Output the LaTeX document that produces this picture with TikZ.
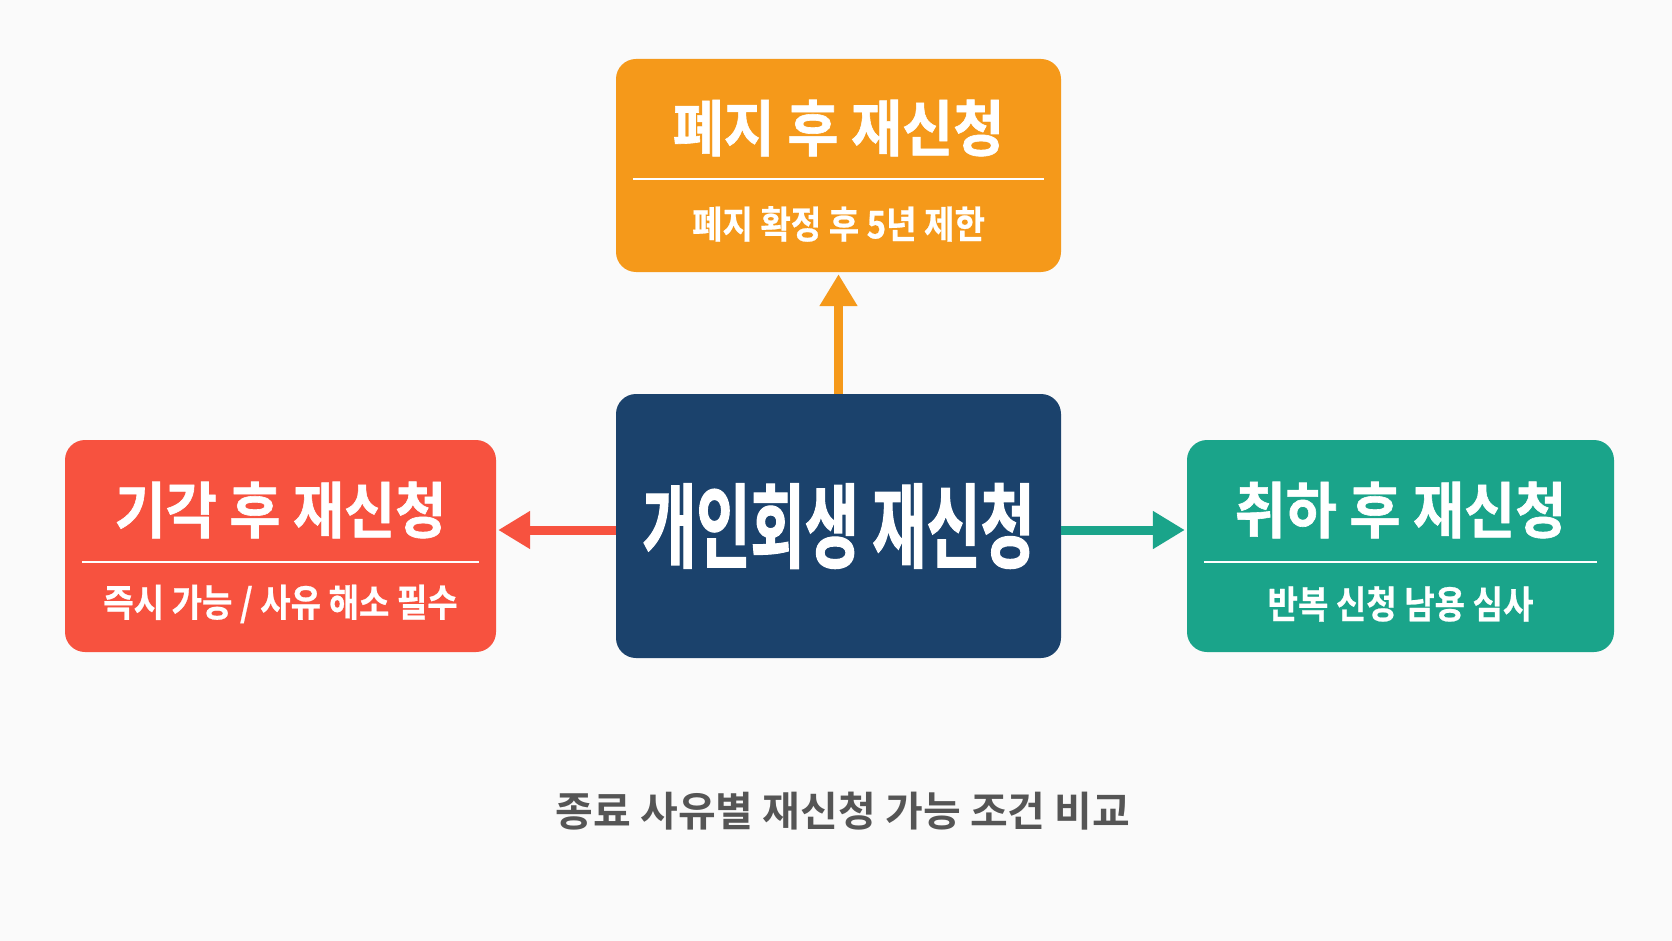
\documentclass[tikz,border=0pt]{standalone}
\usepackage{fontspec}
\usetikzlibrary{arrows.meta,calc}
\newfontfamily\krtitle[FakeStretch=0.64,FakeBold=1.2]{Noto Sans CJK KR Bold}
\newfontfamily\krbox[FakeStretch=0.91,FakeBold=1.0]{Noto Sans CJK KR Bold}
\newfontfamily\krsub[FakeStretch=0.87,FakeBold=0.6]{Noto Sans CJK KR Bold}
\newfontfamily\krcap{Noto Sans CJK KR Bold}
\definecolor{bgc}{HTML}{FAFAFA}
\definecolor{orangec}{HTML}{F5991A}
\definecolor{redc}{HTML}{F7523F}
\definecolor{tealc}{HTML}{1AA48A}
\definecolor{navyc}{HTML}{1B426C}
\definecolor{capc}{HTML}{555555}
\tikzset{
  boxc/.style={draw=none, rounded corners=20pt, inner sep=0pt},
  bigtitle/.style={text=white, inner sep=0pt, font=\krtitle\fontsize{92}{96}\selectfont},
  boxtitle/.style={text=white, inner sep=0pt, font=\krbox\fontsize{61}{64}\selectfont},
  boxsub/.style={text=white, inner sep=0pt, font=\krsub\fontsize{38}{40}\selectfont},
  sepline/.style={white, line width=2pt},
  arr/.style={line width=9pt, -{Triangle[length=32pt,width=36pt]}},
}
\begin{document}
\begin{tikzpicture}[x=1pt,y=-1pt]
\useasboundingbox (0,0) rectangle (1672,941);
\fill[bgc] (0,0) rectangle (1672,941);
% boxes
\node[boxc, fill=orangec, minimum width=445pt, minimum height=213pt] (tbox) at (838.5,165.5) {};
\node[boxc, fill=navyc, minimum width=445pt, minimum height=264pt] (cbox) at (838.5,526) {};
\node[boxc, fill=redc, minimum width=431pt, minimum height=212pt] (lbox) at (280.5,546) {};
\node[boxc, fill=tealc, minimum width=427pt, minimum height=212pt] (rbox) at (1400.5,546) {};
% texts
\node[bigtitle] (ctitle) at (cbox.center) {개인회생 재신청};
\node[boxtitle] (ttitle) at (838.5,128) {폐지 후 재신청};
\node[boxsub] (tsub) at (838.5,224) {폐지 확정 후 5년 제한};
\node[boxtitle] (ltitle) at (280.5,510) {기각 후 재신청};
\node[boxsub] (lsub) at (280.5,604) {즉시 가능 / 사유 해소 필수};
\node[boxtitle] (rtitle) at (1400.5,510) {취하 후 재신청};
\node[boxsub] (rsub) at (1400.5,604) {반복 신청 남용 심사};
% separators
\coordinate (ts) at (838.5,179);
\draw[sepline] ([xshift=17pt]ts -| tbox.west) -- ([xshift=-17pt]ts -| tbox.east);
\coordinate (ls) at (280.5,562);
\draw[sepline] ([xshift=17pt]ls -| lbox.west) -- ([xshift=-17pt]ls -| lbox.east);
\coordinate (rs) at (1400.5,562);
\draw[sepline] ([xshift=17pt]rs -| rbox.west) -- ([xshift=-17pt]rs -| rbox.east);
% arrows
\coordinate (la) at ([yshift=-4pt]cbox.west);
\coordinate (ra) at ([yshift=-4pt]cbox.east);
\draw[arr, draw=orangec] (cbox.north) -- ([yshift=-2pt]tbox.south);
\draw[arr, draw=redc] (la) -- ([xshift=2pt]la -| lbox.east);
\draw[arr, draw=tealc] (ra) -- ([xshift=-2pt]ra -| rbox.west);
% caption
\node[text=capc, inner sep=0pt, font=\krcap\fontsize{41}{44}\selectfont] (cap) at (843,811) {종료 사유별 재신청 가능 조건 비교};
\end{tikzpicture}
\end{document}
